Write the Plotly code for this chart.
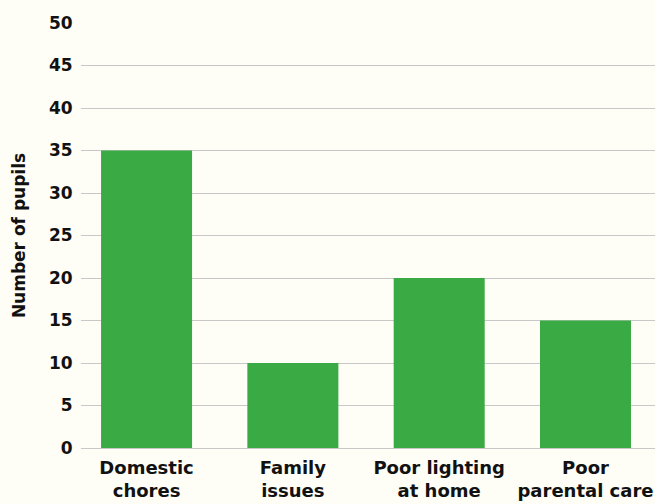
import plotly.graph_objects as go

categories = ["Domestic<br>chores", "Family<br>issues", "Poor lighting<br>at home", "Poor<br>parental care"]
pupils = [35, 10, 20, 15]
y_ticks = [0, 5, 10, 15, 20, 25, 30, 35, 40, 45, 50]

BG = "#FEFDF6"
GREEN = "#3AAA44"
FONT = "DejaVu Sans"
INK = "#111111"

fig = go.Figure(go.Bar(x=categories, y=pupils, marker=dict(color=GREEN, line=dict(width=0))))

fig.update_layout(
    width=655, height=504,
    margin=dict(l=81, r=0, t=23, b=56),
    paper_bgcolor=BG, plot_bgcolor=BG,
    bargap=0.378,
    showlegend=False,
    font=dict(family=FONT, size=18, color=INK, weight=700),
)
fig.update_xaxes(
    range=[-0.448, 3.475], showgrid=False, showline=False,
    ticks="outside", ticklen=3, tickcolor="rgba(0,0,0,0)",
    tickfont=dict(family=FONT, size=18, color=INK, weight=700),
)
fig.update_yaxes(
    range=[0, 50], tickvals=y_ticks, showgrid=True, gridcolor="#C8C8C8", gridwidth=1,
    zeroline=True, zerolinecolor="#C8C8C8", zerolinewidth=1,
    ticks="outside", ticklen=4, tickcolor="rgba(0,0,0,0)",
    tickfont=dict(family=FONT, size=17, color=INK, weight=700),
    title=dict(text="Number of pupils", font=dict(family=FONT, size=17, color=INK, weight=700), standoff=18),
)

# remove the default 8px page margin so the figure fills the 655x504 window
fig.write_html(
    "out.html",
    config={"displayModeBar": False},
    post_script="document.body.style.margin='0';document.body.style.overflow='hidden';",
)
